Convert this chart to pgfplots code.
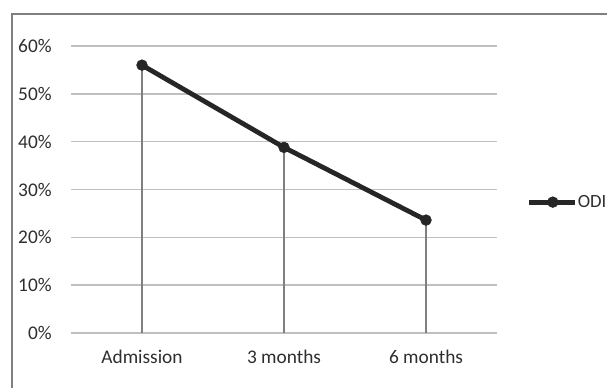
\documentclass[border=0pt]{standalone}
\usepackage{pgfplots}
\pgfplotsset{compat=1.18}
\usepackage{fontspec}
\setmainfont{Carlito}
\definecolor{gridgray}{HTML}{BFBFBF}
\definecolor{dropgray}{HTML}{7F7F7F}
\definecolor{linedark}{HTML}{262626}
\definecolor{textgray}{HTML}{2E2E2E}
\begin{document}
\begin{tikzpicture}
\path[use as bounding box] (0,0) rectangle (455.25pt,291pt);
% outer chart frame (left and top edges)
\draw[color=dropgray, line width=0.9pt] (9pt,-10pt) -- (9pt,280.5pt) -- (470pt,280.5pt);
\begin{axis}[
  at={(53.25pt,41.25pt)}, anchor=south west,
  scale only axis,
  width=319.5pt, height=215.25pt,
  xmin=-0.5, xmax=2.5,
  ymin=0, ymax=60,
  xtick={0,1,2},
  xticklabels={Admission,3 months,6 months},
  ytick={0,10,...,60},
  yticklabel={\pgfmathprintnumber{\tick}\%},
  /pgf/number format/assume math mode=true,
  axis line style={draw=none},
  major tick length=0pt,
  ymajorgrids,
  grid style={color=gridgray, line width=1.2pt},
  tick label style={font=\fontsize{14.5}{16}\selectfont, text=textgray},
  yticklabel style={anchor=east, xshift=-11pt},
  xticklabel style={anchor=center, yshift=-18pt},
  clip=false,
  legend style={at={(axis description cs:1.070,0.456)}, anchor=west, draw=none, fill=none, inner sep=0pt, font=\fontsize{14}{16}\selectfont, text=textgray, nodes={inner sep=0.5pt}},
  legend cell align=left,
  legend image code/.code={\draw[#1, mark repeat=2, mark phase=2] plot coordinates {(0pt,0pt) (17.5pt,0pt) (34pt,0pt)};},
]
% drop lines from each point to the baseline
\addplot[ycomb, color=dropgray, line width=1.1pt, forget plot] coordinates {(0,56) (1,38.8) (2,23.6)};
% ODI over time
\addplot[color=linedark, line width=3.6pt, mark=*, mark size=4pt, mark options={line width=0.5pt}] coordinates {(0,56) (1,38.8) (2,23.6)};
\addlegendentry{ODI}
\end{axis}
\end{tikzpicture}
\end{document}
